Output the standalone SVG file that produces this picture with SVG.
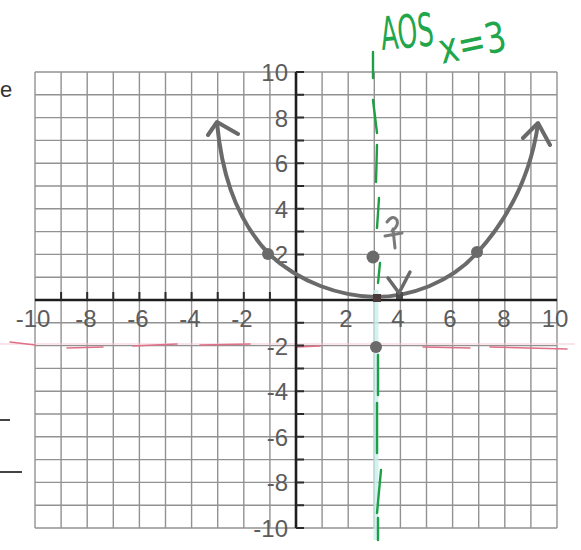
<svg xmlns="http://www.w3.org/2000/svg" width="581" height="550" viewBox="0 0 581 550">
<style>
.grid{fill:none;stroke:#929292;stroke-width:1.4}
.axis{fill:none;stroke:#1e1e1e;stroke-width:2.6}
.tick{fill:none;stroke:#2a2a2a;stroke-width:2}
.lbl{font-family:"Liberation Sans",Arial,sans-serif;font-size:24px;fill:#5c5c5c}
.yl{text-anchor:end}
.xl{text-anchor:middle}
.curve{fill:none;stroke:#6a6a6a;stroke-width:4;stroke-linecap:round;stroke-linejoin:round}
.dot{fill:#6a6a6a}
.green{fill:none;stroke:#1f9f45;stroke-width:2.4;stroke-linecap:round}
.hand{font-family:"DejaVu Sans",sans-serif;fill:#21a64b}
</style>
<rect width="581" height="550" fill="#ffffff"/>
<g id="margin">
<text x="0" y="97" style="font-family:'Liberation Sans',Arial,sans-serif;font-size:22px;fill:#333">e</text>
<path d="M0 420H10M0 472H22" stroke="#444" stroke-width="1.8" fill="none"/>
</g>
<g id="grid">
<path class="grid" d="M35 72V528M61.1 72V528M87.2 72V528M113.3 72V528M139.4 72V528M165.5 72V528M191.6 72V528M217.7 72V528M243.8 72V528M269.9 72V528M322.1 72V528M348.2 72V528M374.3 72V528M400.4 72V528M426.5 72V528M452.6 72V528M478.7 72V528M504.8 72V528M530.9 72V528M557 72V528"/>
<path class="grid" d="M35 72H557M35 94.8H557M35 117.6H557M35 140.4H557M35 163.2H557M35 186H557M35 208.8H557M35 231.6H557M35 254.4H557M35 277.2H557M35 322.8H557M35 345.6H557M35 368.4H557M35 391.2H557M35 414H557M35 436.8H557M35 459.6H557M35 482.4H557M35 505.2H557M35 528H557"/>
</g>
<g id="red-line">
<path d="M0 344H575" stroke="#f4ccd3" stroke-width="1.2" fill="none"/>
<path d="M10 342L35 345M67 348L103 347M133 346L177 344M200 345L250 344M297 347L320 346M423 347L470 348M490 347L567 349" stroke="#e07088" stroke-width="1.6" fill="none" stroke-linecap="round"/>
</g>
<g id="axes">
<path class="axis" d="M296 72V528M35 300H557"/>
<path class="tick" d="M296 72H304M296 94.8H304M296 117.6H304M296 140.4H304M296 163.2H304M296 186H304M296 208.8H304M296 231.6H304M296 254.4H304M296 277.2H304M296 322.8H304M296 345.6H304M296 368.4H304M296 391.2H304M296 414H304M296 436.8H304M296 459.6H304M296 482.4H304M296 505.2H304M296 528H304"/>
<path class="tick" d="M61.1 292V300M87.2 292V300M113.3 292V300M139.4 292V300M165.5 292V300M191.6 292V300M217.7 292V300M243.8 292V300M269.9 292V300"/>
</g>
<g id="labels">
<text class="lbl yl" x="288" y="81">10</text>
<text class="lbl yl" x="288" y="127">8</text>
<text class="lbl yl" x="288" y="172">6</text>
<text class="lbl yl" x="288" y="218">4</text>
<text class="lbl yl" x="288" y="263">2</text>
<text class="lbl yl" x="288" y="355">-2</text>
<text class="lbl yl" x="288" y="400">-4</text>
<text class="lbl yl" x="288" y="446">-6</text>
<text class="lbl yl" x="288" y="491">-8</text>
<text class="lbl yl" x="288" y="537">-10</text>
<text class="lbl xl" x="33" y="327">-10</text>
<text class="lbl xl" x="86" y="327">-8</text>
<text class="lbl xl" x="138" y="327">-6</text>
<text class="lbl xl" x="190" y="327">-4</text>
<text class="lbl xl" x="242" y="327">-2</text>
<text class="lbl xl" x="346" y="327">2</text>
<text class="lbl xl" x="398" y="327">4</text>
<text class="lbl xl" x="450" y="327">6</text>
<text class="lbl xl" x="504" y="327">8</text>
<text class="lbl xl" x="555" y="327">10</text>
</g>
<g id="aos-line">
<path d="M376 290V540" stroke="#c9efec" stroke-width="5" fill="none" opacity="0.8"/>
<path class="green" d="M373 52V78M373 100L377 133M377 145L376 182M379 198L377 228M380 263L378 283M378 355V395M377 403V453M381 470L377 513M378 518V540"/>
</g>
<g id="parabola">
<path class="curve" d="M217 123C221 165 232 215 269 254C300 283 340 296 375 297C410 297 450 283 477 253C505 222 530 180 538 124"/>
<path class="curve" d="M208 135L217 122L238 134M523 138L538 123L550 145"/>
<circle class="dot" cx="268" cy="254" r="6"/>
<circle class="dot" cx="477" cy="252" r="6"/>
<circle class="dot" cx="373" cy="257" r="6.5"/>
<circle class="dot" cx="376" cy="347" r="6"/>
<rect x="373" y="294" width="8" height="8" fill="#4a3a3a"/>
<rect x="396" y="292" width="7" height="7" fill="#4a4a4a"/>
<path d="M388 278L399 293L410 272" fill="none" stroke="#6a6a6a" stroke-width="3.5" stroke-linecap="round" stroke-linejoin="round"/>
<path d="M387 222Q393 214 397 220Q399 226 392 231M385 236L402 233M393 229L395 248" fill="none" stroke="#7a7a7a" stroke-width="3" stroke-linecap="round"/>
</g>
<g id="annotation">
<text class="hand" x="382" y="50" font-size="46" textLength="53" lengthAdjust="spacingAndGlyphs" transform="rotate(-5 382 50)">AOS</text>
<text class="hand" x="442" y="64" font-size="42" textLength="68" lengthAdjust="spacingAndGlyphs" transform="rotate(-12 442 64)">x=3</text>
</g>
</svg>
